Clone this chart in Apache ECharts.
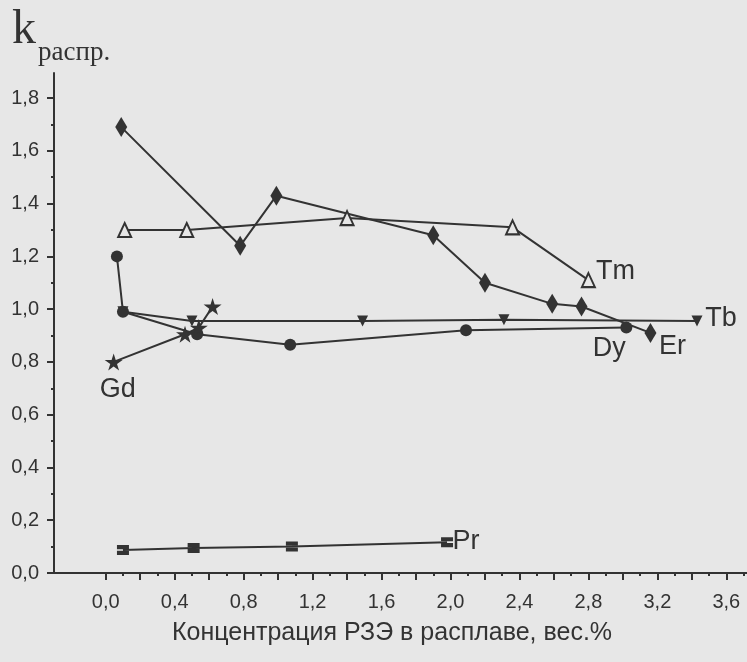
<!DOCTYPE html>
<html>
<head>
<meta charset="utf-8">
<script src="https://cdn.jsdelivr.net/npm/echarts@6/dist/echarts.min.js"></script>
<style>
  html, body { margin: 0; padding: 0; background: #e7e7e7; }
  #chart { width: 747px; height: 662px; }
</style>
</head>
<body>
<div id="chart"></div>
<script>
// Distribution coefficient k vs. REE concentration in the melt (wt.%)
const erX = [0.09, 0.78, 0.99, 1.90, 2.20, 2.59, 2.76, 3.16];
const erY = [1.69, 1.24, 1.43, 1.28, 1.10, 1.02, 1.01, 0.91];

const tmX = [0.11, 0.47, 1.40, 2.36, 2.80];
const tmY = [1.30, 1.30, 1.345, 1.31, 1.11];

const dyX = [0.065, 0.10, 0.53, 1.07, 2.09, 3.02];
const dyY = [1.20, 0.99, 0.905, 0.865, 0.92, 0.93];

const tbX = [0.10, 0.50, 1.49, 2.31, 3.43];
const tbY = [0.99, 0.955, 0.955, 0.96, 0.955];

const gdX = [0.046, 0.46, 0.54, 0.62];
const gdY = [0.80, 0.905, 0.93, 1.01];

const prX = [0.10, 0.51, 1.08, 1.98];
const prY = [0.087, 0.095, 0.10, 0.117];

// axis tick values
const xLabelTicks = [0.0, 0.4, 0.8, 1.2, 1.6, 2.0, 2.4, 2.8, 3.2, 3.6];
const xMajorTicks = [0.0, 0.2, 0.4, 0.6, 0.8, 1.0, 1.2, 1.4, 1.6, 1.8, 2.0, 2.2, 2.4, 2.6, 2.8, 3.0, 3.2, 3.4, 3.6];
const xMinorTicks = [0.1, 0.3, 0.5, 0.7, 0.9, 1.1, 1.3, 1.5, 1.7, 1.9, 2.1, 2.3, 2.5, 2.7, 2.9, 3.1, 3.3, 3.5, 3.7];
const yLabelTicks = [0.0, 0.2, 0.4, 0.6, 0.8, 1.0, 1.2, 1.4, 1.6, 1.8];
const yMinorTicks = [0.1, 0.3, 0.5, 0.7, 0.9, 1.1, 1.3, 1.5, 1.7];

const INK = '#333333';
const BG = '#e7e7e7';
const fmt = v => v.toFixed(1).replace('.', ',');

const STAR = 'path://M50,0 L61,35 L98,35 L68,57 L79,91 L50,70 L21,91 L32,57 L2,35 L39,35 Z';
const BARS = 'path://M0,0H12V4.2H0Z M0,5.8H12V10H0Z';

function pairs(xs, ys) {
  return xs.map((x, i) => [x, ys[i]]);
}

function lineSeries(name, xs, ys, symbolOpts, labelIdx, labelOffset) {
  const data = pairs(xs, ys).map((p, i) => {
    if (i !== labelIdx) return p;
    return {
      value: p,
      label: {
        show: true,
        formatter: name,
        position: 'inside',
        offset: labelOffset,
        fontFamily: 'Liberation Sans, Arial, sans-serif',
        fontSize: 27,
        color: INK
      }
    };
  });
  return Object.assign({
    name: name,
    type: 'line',
    data: data,
    lineStyle: { color: INK, width: 2 },
    itemStyle: { color: INK },
    label: { show: false },
    emphasis: { disabled: true }
  }, symbolOpts);
}

const chart = echarts.init(document.getElementById('chart'), null, { renderer: 'canvas' });

const axisLabelFont = { fontFamily: 'Liberation Sans, Arial, sans-serif', fontSize: 20, color: INK };

chart.setOption({
  animation: false,
  backgroundColor: BG,
  grid: { left: 54, right: 0, top: 73, bottom: 89, containLabel: false },
  xAxis: [
    {
      type: 'value', position: 'bottom', min: -0.3, max: 3.72,
      axisLine: { show: true, onZero: false, lineStyle: { color: INK, width: 2 } },
      axisTick: { show: true, length: 7, customValues: xMajorTicks, lineStyle: { color: INK, width: 2 } },
      axisLabel: Object.assign({ customValues: xLabelTicks, margin: 19, formatter: fmt }, axisLabelFont),
      splitLine: { show: false }
    },
    {
      type: 'value', position: 'bottom', min: -0.3, max: 3.72,
      axisLine: { show: false, onZero: false },
      axisTick: { show: true, length: 3, customValues: xMinorTicks, lineStyle: { color: INK, width: 2 } },
      axisLabel: { show: false },
      splitLine: { show: false }
    }
  ],
  yAxis: [
    {
      type: 'value', position: 'left', min: 0, max: 1.895,
      axisLine: { show: true, onZero: false, lineStyle: { color: INK, width: 2 } },
      axisTick: { show: true, length: 7, customValues: yLabelTicks, lineStyle: { color: INK, width: 2 } },
      axisLabel: Object.assign({ customValues: yLabelTicks, margin: 15, formatter: fmt }, axisLabelFont),
      splitLine: { show: false }
    },
    {
      type: 'value', position: 'left', min: 0, max: 1.895,
      axisLine: { show: false, onZero: false },
      axisTick: { show: true, length: 3, customValues: yMinorTicks, lineStyle: { color: INK, width: 2 } },
      axisLabel: { show: false },
      splitLine: { show: false }
    }
  ],
  graphic: [
    {
      type: 'text', left: 12, top: 6, z: 10,
      style: { text: 'k', font: '48px "Liberation Serif", "Times New Roman", serif', fill: INK }
    },
    {
      type: 'text', left: 38, top: 39, z: 10,
      style: { text: 'распр.', font: '27px "Liberation Serif", "Times New Roman", serif', fill: INK }
    },
    {
      type: 'text', x: 392, y: 633, z: 10,
      style: {
        text: 'Концентрация РЗЭ в расплаве, вес.%',
        font: '25px "Liberation Sans", Arial, sans-serif',
        fill: INK, align: 'center', verticalAlign: 'middle'
      }
    }
  ],
  series: [
    lineSeries('Pr', prX, prY, { symbol: BARS, symbolSize: [12, 10] }, 3, [19, -1]),
    lineSeries('Tm', tmX, tmY, {
      symbol: 'triangle', symbolSize: [13, 14],
      itemStyle: { color: BG, borderColor: INK, borderWidth: 2 }
    }, 4, [27, -9]),
    lineSeries('Tb', tbX, tbY, { symbol: 'triangle', symbolRotate: 180, symbolSize: [11, 11] }, 4, [24, -2]),
    lineSeries('Dy', dyX, dyY, { symbol: 'circle', symbolSize: 12 }, 5, [-17, 21]),
    lineSeries('Gd', gdX, gdY, { symbol: STAR, symbolSize: [18, 18], symbolKeepAspect: true }, 0, [4, 28]),
    lineSeries('Er', erX, erY, { symbol: 'diamond', symbolSize: [12, 20] }, 7, [22, 14])
  ]
});
</script>
</body>
</html>
